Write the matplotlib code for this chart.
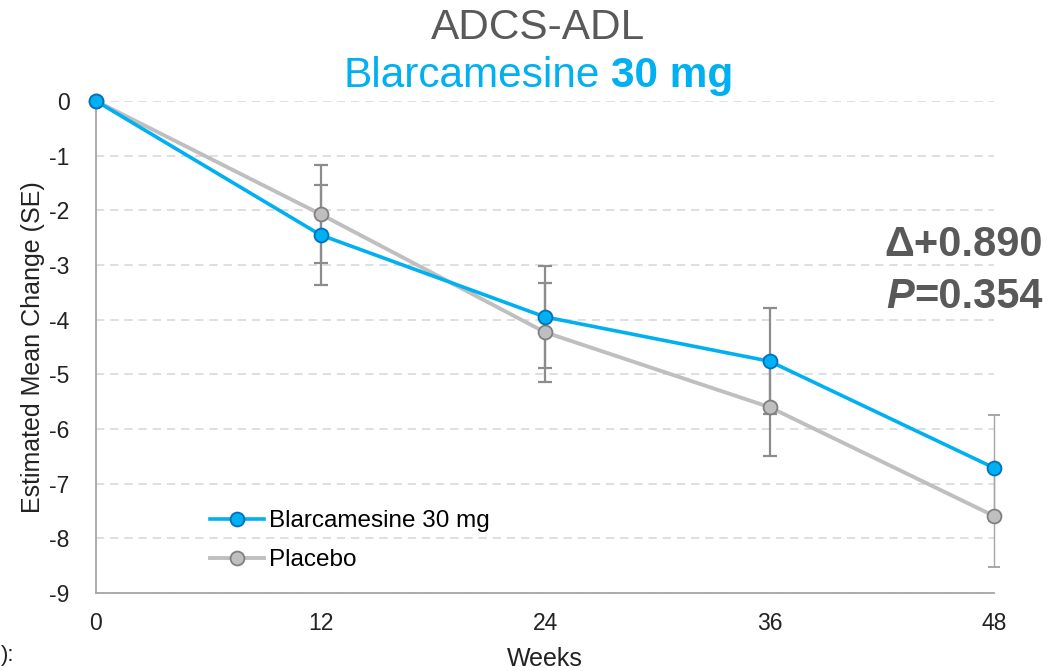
import matplotlib.pyplot as plt

plt.rcParams['font.family'] = ['Liberation Sans', 'DejaVu Sans']
plt.rcParams['axes.unicode_minus'] = False

weeks = [0, 12, 24, 36, 48]
blarc = [0, -2.45, -3.95, -4.76, -6.71]
blarc_se = [0, 0.92, 0.93, 0.97, 0.97]
placebo = [0, -2.07, -4.23, -5.60, -7.59]
placebo_se = [0, 0.90, 0.905, 0.90, 0.93]
yticks = list(range(0, -10, -1))

blue = '#00B0F0'
blue_edge = '#0070C0'
grey_line = '#BFBFBF'
grey_edge = '#808080'
text_grey = '#595959'

fig = plt.figure(figsize=(10.51, 6.71), dpi=100)
ax = fig.add_axes([96/1051, 1-593/671, (994-96)/1051, (593-101)/671])

# error bars (behind the lines)
ax.errorbar(weeks[1:4], blarc[1:4], yerr=blarc_se[1:4], fmt='none', ecolor='#8C8C8C',
            elinewidth=1.6, capsize=5, capthick=1.6, zorder=2, clip_on=False)
ax.errorbar(weeks[1:4], placebo[1:4], yerr=placebo_se[1:4], fmt='none', ecolor='#8C8C8C',
            elinewidth=1.6, capsize=5, capthick=1.6, zorder=2, clip_on=False)
# last visit bars are drawn lighter in the original
ax.errorbar(weeks[4:], blarc[4:], yerr=blarc_se[4:], fmt='none', ecolor='#A6A6A6',
            elinewidth=1.0, capsize=4, capthick=1.4, zorder=2, clip_on=False)
ax.errorbar(weeks[4:], placebo[4:], yerr=placebo_se[4:], fmt='none', ecolor='#A6A6A6',
            elinewidth=1.0, capsize=4, capthick=1.4, zorder=2, clip_on=False)

ax.plot(weeks, placebo, color=grey_line, lw=2.8, marker='o', ms=10,
        mfc='#BFBFBF', mec=grey_edge, mew=1.3, label='Placebo', zorder=3, clip_on=False)
ax.plot(weeks, blarc, color=blue, lw=2.6, marker='o', ms=10,
        mfc=blue, mec=blue_edge, mew=1.3, label='Blarcamesine 30 mg', zorder=4, clip_on=False)

ax.set_xlim(0, 48)
ax.set_ylim(-9, 0)
ax.set_xticks(weeks)
ax.set_yticks(yticks)
ax.tick_params(axis='both', length=0, labelsize=16.5, colors='#222222')
ax.tick_params(axis='y', pad=19)
ax.tick_params(axis='x', pad=14)
ax.yaxis.grid(True, color='#D9D9D9', linestyle=(0, (5, 3.5)), lw=1.2)
ax.set_axisbelow(True)
for s in ['top', 'right']:
    ax.spines[s].set_visible(False)
for s in ['left', 'bottom']:
    ax.spines[s].set_color('#A6A6A6')
    ax.spines[s].set_linewidth(1.3)

ax.set_ylabel('Estimated Mean Change (SE)', fontsize=18, color='#222222', labelpad=3)
ax.set_xlabel('Weeks', fontsize=18, color='#222222', labelpad=8)

h, l = ax.get_legend_handles_labels()
ax.legend(h[::-1], l[::-1], loc='lower left', bbox_to_anchor=(0.103, 0.0), frameon=False,
          fontsize=17.5, handlelength=2.2, labelspacing=0.7, handletextpad=0.2)

# titles
fig.text(538/1051, 1-28/671, 'ADCS-ADL', ha='center', va='center', fontsize=30.5, color=text_grey)
fig.text(600/1051, 1-76/671, 'Blarcamesine', ha='right', va='center', fontsize=30.5, color=blue)
fig.text(611/1051, 1-76/671, '30 mg', ha='left', va='center', fontsize=30.5, color=blue,
         fontweight='bold')

# delta / p value annotation
fig.text(1043/1051, 1-245/671, '\u0394+0.890', ha='right', va='center', fontsize=30,
         color=text_grey, fontweight='bold')
t2 = fig.text(1043/1051, 1-297/671, '=0.354', ha='right', va='center', fontsize=30,
              color=text_grey, fontweight='bold')
fig.canvas.draw()
bb = t2.get_window_extent()
fig.text(bb.x0/fig.bbox.width, 1-297/671, 'P', ha='right', va='center', fontsize=30,
         color=text_grey, fontweight='bold', style='italic')

# leftover footnote fragment at the bottom-left edge
fig.text(1/1051, 1-655/671, '):', ha='left', va='center', fontsize=16, color='#222222')

fig.savefig('out.png', dpi=100)
